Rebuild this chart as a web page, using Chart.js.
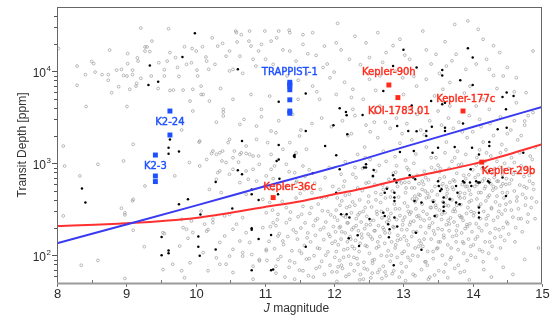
<!DOCTYPE html>
<html>
<head>
<meta charset="utf-8">
<script src="https://cdn.jsdelivr.net/npm/chart.js@4.4.1/dist/chart.umd.min.js"></script>
<style>
  html, body { margin: 0; padding: 0; background: #fff; }
</style>
</head>
<body>
<canvas id="depthChart" width="552" height="320"></canvas>
<script>
// Axis ranges and ticks
const X_MIN = 8, X_MAX = 15;
const Y_MIN = 50, Y_MAX = 50000;
const xTicks = [8, 9, 10, 11, 12, 13, 14, 15];
const yMajorTicks = [100, 1000, 10000];
const yMinorTicks = [60, 70, 80, 90, 200, 300, 400, 500, 600, 700, 800, 900,
    2000, 3000, 4000, 5000, 6000, 7000, 8000, 9000, 20000, 30000, 40000];

// Noise curves (J magnitude vs depth in ppm)
const blueLineJ = [8, 9, 10, 11, 12, 13, 14, 15];
const blueLineDepth = [135, 216, 347, 562, 900, 1500, 2480, 4100];
const redLineJ = [8, 9, 10, 11, 11.5, 12, 12.5, 13, 13.5, 14, 14.5, 15];
const redLineDepth = [208, 223, 255, 335, 385, 460, 550, 680, 810, 980, 1240, 1610];

// Highlighted systems
const blueTargets = [
    { name: 'K2-24', j: 9.63, depth: [3700, 2030] },
    { name: 'K2-3', j: 9.42, depth: [1230, 728, 633] },
    { name: 'TRAPPIST-1', j: 11.36, depth: [7600, 7200, 6900, 6300, 4900, 3700, 3500] }
];
const redTargets = [
    { name: 'Kepler-90h', j: 12.79, depth: [7100] },
    { name: 'KOI-1783.01', j: 12.92, depth: [5180] },
    { name: 'Kepler-177c', j: 13.86, depth: [3700] },
    { name: 'Kepler-29b', j: 14.13, depth: [1030] },
    { name: 'Kepler-36c', j: 11.12, depth: [424] }
];

// Confirmed planets (black)
const blackPts = [
[9.99,25900],[9.81,14300],[9.34,11600],[9.46,7700],[9.32,7100],[10.61,10500],
[9.63,1820],[9.61,1480],[9.61,1270],[9.76,1340],[10.67,1750],[11.2,4680],[11.2,1580],
[8.36,531],[8.41,374],[9.51,158],[9.51,100],[9.61,113],[9.61,105],[9.76,358],[9.89,406],
[10.04,160],[10.04,124],[10.06,99],[10.07,277],[10.29,627],[10.29,116],[10.53,322],[10.61,840],
[10.67,760],[10.81,520],[10.81,460],[10.91,400],[10.81,197],[10.81,190],[10.91,150],[10.81,69],
[11.09,69],[11.12,70],[11.09,166],[11.2,1100],
[13.0,17100],[13.93,17800],[14.0,14100],[12.85,11400],[13.19,11000],[13.56,10300],[13.56,9000],
[13.82,8000],[14.0,7100],[12.71,6100],[14.49,5870],[14.59,5380],[14.43,5250],[11.59,5720],[13.4,4760],
[12.08,3960],[12.17,3610],[12.18,3330],[12.41,3350],[14.48,3860],[11.99,2600],[12.91,2540],[12.19,2070],
[13.07,2240],[13.19,2230],[13.33,2240],[13.33,1980],[13.41,2490],[13.6,2440],[13.6,2240],[13.86,2700],
[14.36,2340],[14.49,2440],[14.24,1700],[14.24,1540],[11.87,1540],[11.43,1230],[12.03,1220],[12.95,1330],
[13.15,1360],[13.42,1300],[13.5,1480],[13.74,1500],[13.99,1480],[14.09,1250],[14.73,1300],
[11.42,1200],[11.17,1060],[11.69,780],[12.08,860],[12.43,900],[12.46,975],[12.46,900],[12.57,845],
[12.56,730],[12.85,740],[12.9,617],[12.87,670],[12.76,530],[12.73,480],[12.87,480],[12.87,425],
[12.87,390],[13.09,740],[13.14,700],[13.17,670],[13.16,390],[13.26,375],[13.43,380],[13.5,640],
[13.51,567],[13.55,522],[13.53,500],[13.58,424],[13.58,376],[13.58,338],[13.58,303],[13.67,406],
[13.76,567],[13.76,376],[13.86,640],[13.88,617],[13.78,480],[13.81,358],[13.96,617],[13.98,567],
[14.09,330],[14.09,290],[14.09,257],[14.05,640],[14.08,617],[14.1,617],[14.22,640],[14.24,617],
[14.24,825],[14.43,700],[14.48,440],[13.97,860],[14.15,900],[12.1,279],[12.18,279],[12.22,257],
[12.21,153],[12.34,165],[12.36,126],[12.51,248],[12.71,290],[12.73,268],[12.78,218],[12.8,192],
[12.79,157],[12.87,257],[12.91,205],[12.86,78],[13.26,115],[13.18,176],[13.45,268],[11.59,124],
[12.03,480],[11.59,2240],[11.43,1170],[11.21,680],[11.19,460],[13.12,4260],[13.56,4380],[13.6,4550]
];

// Candidates / all targets (grey)
const grayPts = [
// upper band, left
[8.02,17700],[8.29,7040],[8.41,9200],[8.5,12800],[8.53,12100],[8.55,9800],[8.65,9200],[8.74,9200],
[8.74,8000],[8.76,17000],[8.79,5860],[8.86,10300],[8.93,10500],[8.89,6800],[8.96,9000],[9.01,8900],
[9.02,15600],[9.02,12100],[9.05,6370],[9.09,10300],[9.09,9200],[9.14,6900],[9.15,7400],[9.16,14000],
[9.17,12900],[9.21,8400],[9.21,29500],[9.27,18400],[9.3,18400],[9.27,16600],[9.34,16400],[9.37,21300],
[9.36,8900],[9.46,6500],[9.47,12400],[9.55,10400],[9.55,8900],[9.61,29000],[9.59,12900],[9.63,16000],
[9.63,6200],[9.68,6250],[9.71,14100],[9.74,11000],[9.76,8800],[9.82,6250],[9.84,18500],[9.87,11900],
[9.94,12400],[9.95,17700],[9.96,6370],[10.01,16600],[10.02,10300],[10.03,8900],[10.1,18500],[10.08,6900],
[10.11,5600],[10.15,14300],[10.16,12900],[10.19,10500],[10.24,23100],[10.28,11900],[10.32,18800],
[10.39,20100],[10.44,14600],[10.36,6500],[10.49,16600],[10.49,10100],[10.54,10500],[10.58,27400],
[10.59,26300],[10.6,20800],[10.64,14600],[10.66,25000],[10.68,9500],[10.77,21300],[10.78,27400],
[10.8,18800],[10.83,13500],[10.87,11400],[10.91,16600],[10.95,19600],[11.0,27400],[11.01,13500],
[11.09,21300],[11.12,11900],[11.2,27400],[11.17,23100],[11.26,17100],[11.35,28000],[11.36,16600],
[11.32,8900],[11.45,12900],[8.42,4140],[9.01,4140],[8.29,11400],
// upper band, right
[11.36,26300],[11.55,19600],[11.69,26300],[11.74,14900],[11.86,18800],[12.05,33200],[12.03,20400],
[12.1,17100],[12.22,13500],[11.84,11000],[11.94,8500],[11.6,9300],[11.69,6900],[11.48,4960],[11.79,4960],
[12.03,5600],[12.27,6370],[12.46,20400],[12.51,14100],[12.63,26300],[12.75,16000],[12.95,22300],
[13.09,13500],[13.28,27400],[13.33,17100],[13.47,15300],[13.62,11400],[13.74,32300],[13.76,15300],
[13.93,35300],[14.08,28600],[14.15,22300],[14.2,13500],[14.39,16000],[14.44,8900],[14.24,10500],
[14.63,8500],[14.87,16600],[14.77,5860],[13.96,6900],[14.15,4960],[13.67,7540],[13.57,6370],[13.33,8200],
[13.19,6900],[12.99,8500],[12.66,8900],[12.51,8200],[12.42,4960],[12.27,3860],[12.66,4190],[13.09,3860],
[13.24,3560],[13.67,4190],[14.05,4190],[14.24,3860],[14.63,4550],[14.87,3560],[14.75,2880],
[11.62,15500],[11.9,12000],[12.0,9800],[12.15,7600],[12.38,11800],[12.55,9500],[12.7,12500],[12.88,10000],
[13.02,15000],[13.15,8800],[13.4,12000],[13.52,9500],[13.7,13000],[13.9,10500],[14.05,12000],[14.3,9000],
[14.5,11000],[11.48,8000],[11.75,6000],[12.25,5200],[12.6,6200],[13.0,5600],[13.45,5400],[13.88,5800],
[14.35,6500],[14.6,6000],[11.55,25000],[12.3,24000],[12.85,19000],[13.6,21000],[14.3,19000],
// middle
[10.06,1750],[10.05,1700],[10.23,1280],[10.35,1300],[10.49,1820],[10.56,1360],[10.73,1280],[10.91,1200],
[11.04,1680],[11.09,1250],[11.16,2150],[9.1,1610],[8.09,1540],[10.4,3270],[10.4,3600],
[9.92,4750],[10.08,5600],[9.96,3700],[10.2,4750],[10.4,3860],[10.54,4960],[10.8,5600],[11.07,5380],
[10.95,3860],[11.09,2240],[10.88,2540],[10.64,2650],[10.47,1680],[10.25,1360],[10.16,1100],[10.39,1360],
[10.38,1060],[10.54,1150],[10.66,1300],[10.73,1540],[10.78,1250],[10.88,1820],[10.92,975],[11.09,860],
[11.14,935],[11.31,975],[11.45,1300],[11.43,790],[11.55,935],[11.26,1420],[11.36,1680],[11.5,1980],
[11.6,1420],[10.35,825],[10.49,760],[10.73,825],[10.88,640],[10.3,670],[10.76,670],[11.0,567],
[11.31,567],[11.45,617],[11.57,520],
// lower left
[8.11,935],[8.59,975],[8.96,1060],[8.33,730],[8.93,325],[8.98,290],[8.98,275],[9.1,406],[9.09,390],
[9.27,567],[8.09,268],[9.1,187],[9.26,124],[9.53,176],[9.55,172],[9.67,80],[9.53,70],[8.98,56],
[8.35,78],[8.59,88],[9.87,192],[9.8,246],[9.94,236],[9.89,153],[9.77,126],[9.7,730],[9.91,1020],
[10.06,935],[10.2,520],[10.08,303],[10.16,183],[10.25,226],[10.35,138],[10.11,107],[10.35,80],
[10.18,68],[10.54,65],[9.84,57],[10.49,98],[10.54,192],[10.49,279],[10.68,257],[10.64,617],
[10.54,860],[10.73,460],[10.78,138],[10.68,107],[10.92,90],[10.83,76],[11.02,116],[11.12,226],
[11.02,290],[11.12,520],[11.02,730],[10.83,1200],[10.64,1250],[10.44,1020],[10.3,1250],[10.62,1030],
[10.83,860],[10.97,406],[11.07,375],[11.19,162],[11.19,90],[10.83,55],[10.54,116],[10.37,480],[10.32,790],
[9.82,200],[9.96,177],[10.13,218],[10.18,190],[10.42,162],[10.64,143],[10.73,176],[10.97,200],
[11.16,210],[11.36,246],[11.45,177],[11.26,143],[11.5,112],[11.36,87],[11.16,76],[10.92,87],
[10.68,98],[10.44,80],[10.3,94],[9.92,83],[9.8,68],[11.55,68],[11.43,55],[10.81,102],[11.02,112],
[10.59,218],[11.19,279],[11.53,279],[11.31,330],[10.42,268],[10.25,246],
// J 11-12
[11.03,88],[11.06,142],[11.08,205],[11.11,310],[11.14,118],[11.16,64],[11.18,244],[11.21,172],
[11.23,97],[11.25,385],[11.27,131],[11.29,58],[11.31,226],[11.33,160],[11.35,74],[11.37,295],
[11.39,112],[11.41,189],[11.43,83],[11.45,420],[11.47,150],[11.48,262],[11.5,69],[11.52,198],
[11.53,105],[11.55,340],[11.57,128],[11.58,225],[11.6,91],[11.62,175],[11.63,60],[11.65,285],
[11.66,140],[11.68,480],[11.7,210],[11.71,99],[11.73,165],[11.74,72],[11.76,250],[11.77,360],
[11.79,118],[11.8,190],[11.82,86],[11.83,305],[11.85,148],[11.86,62],[11.88,230],[11.89,430],
[11.91,109],[11.92,170],[11.94,78],[11.95,275],[11.97,135],[11.98,560],[11.99,205],[11.12,680],
[11.28,540],[11.46,640],[11.58,720],[11.72,610],[11.87,700],[11.64,850],[11.93,900],[11.35,810],
[11.51,470],[11.8,520],
[11.61,155],[11.64,92],[11.67,330],[11.7,58],[11.73,240],[11.76,120],[11.79,75],[11.82,420],
[11.85,200],[11.88,100],[11.91,300],[11.94,160],[11.97,66],
// J 12-13
[12.01,95],[12.02,180],[12.03,310],[12.04,66],[12.05,240],[12.06,130],[12.07,520],[12.08,88],
[12.09,205],[12.1,150],[12.11,390],[12.12,72],[12.13,270],[12.14,115],[12.15,640],[12.16,175],
[12.17,59],[12.18,330],[12.19,140],[12.2,225],[12.21,98],[12.22,460],[12.23,160],[12.24,80],
[12.25,290],[12.26,125],[12.27,760],[12.28,200],[12.29,68],[12.3,350],[12.31,145],[12.32,250],
[12.33,92],[12.34,540],[12.35,185],[12.36,110],[12.37,400],[12.38,62],[12.39,230],[12.4,155],
[12.41,880],[12.42,300],[12.43,84],[12.44,195],[12.45,128],[12.46,610],[12.47,265],[12.48,70],
[12.49,170],[12.5,440],[12.51,105],[12.52,215],[12.53,57],[12.54,335],[12.55,150],[12.56,720],
[12.57,240],[12.58,90],[12.59,185],[12.6,480],[12.61,120],[12.62,280],[12.63,65],[12.64,210],
[12.65,950],[12.66,160],[12.67,375],[12.68,100],[12.69,255],[12.7,580],[12.71,76],[12.72,190],
[12.73,135],[12.74,420],[12.75,60],[12.76,230],[12.77,315],[12.78,112],[12.79,670],[12.8,175],
[12.81,86],[12.82,285],[12.83,140],[12.84,500],[12.85,205],[12.86,68],[12.87,360],[12.88,120],
[12.89,800],[12.9,245],[12.91,95],[12.92,165],[12.93,430],[12.94,58],[12.95,270],[12.96,150],
[12.97,610],[12.98,105],[12.99,215],
[12.015,142],[12.045,420],[12.075,200],[12.105,78],[12.135,560],[12.165,260],[12.195,118],[12.225,340],
[12.255,190],[12.285,95],[12.315,700],[12.345,275],[12.375,135],[12.405,505],[12.435,72],[12.465,215],
[12.495,380],[12.525,160],[12.555,82],[12.585,590],[12.615,300],[12.645,125],[12.675,460],[12.705,200],
[12.735,66],[12.765,540],[12.795,240],[12.825,100],[12.855,780],[12.885,320],[12.915,145],[12.945,650],
[12.975,190],[12.52,1100],[12.34,1250],[12.71,1350],[12.88,1180],[12.16,1040],[12.44,1500],[12.63,1900],
[12.95,1650],[12.25,2100],[12.81,2400],[12.58,2800],
[12.006,260],[12.032,110],[12.058,75],[12.084,350],[12.11,180],[12.136,95],[12.162,450],[12.188,225],
[12.214,62],[12.24,150],[12.266,380],[12.292,118],[12.318,210],[12.344,80],[12.37,290],[12.396,170],
[12.422,55],[12.448,330],[12.474,125],[12.5,620],[12.526,240],[12.552,88],[12.578,185],[12.604,400],
[12.63,140],[12.656,70],[12.682,300],[12.708,520],[12.734,175],[12.76,98],[12.786,260],[12.812,430],
[12.838,63],[12.864,200],[12.89,130],[12.916,560],[12.942,320],[12.968,82],[12.994,240],
// J 13-14
[13.01,110],[13.02,260],[13.03,480],[13.04,75],[13.05,190],[13.06,340],[13.07,130],[13.08,620],
[13.09,215],[13.1,88],[13.11,295],[13.12,160],[13.13,410],[13.14,62],[13.15,235],[13.16,540],
[13.17,120],[13.18,320],[13.19,180],[13.2,740],[13.21,98],[13.22,270],[13.23,145],[13.24,450],
[13.25,205],[13.26,70],[13.27,360],[13.28,125],[13.29,590],[13.3,240],[13.31,85],[13.32,175],
[13.33,420],[13.34,280],[13.35,110],[13.36,660],[13.37,200],[13.38,58],[13.39,330],[13.4,150],
[13.41,500],[13.42,225],[13.43,92],[13.44,390],[13.45,170],[13.46,840],[13.47,265],[13.48,118],
[13.49,455],[13.5,195],[13.51,68],[13.52,310],[13.53,140],[13.54,560],[13.55,245],[13.56,100],
[13.57,380],[13.58,165],[13.59,710],[13.6,290],[13.61,80],[13.62,215],[13.63,470],[13.64,130],
[13.65,345],[13.66,185],[13.67,620],[13.68,255],[13.69,95],[13.7,400],[13.71,160],[13.72,520],
[13.73,230],[13.74,72],[13.75,300],[13.76,140],[13.77,780],[13.78,210],[13.79,115],[13.8,440],
[13.81,270],[13.82,65],[13.83,355],[13.84,175],[13.85,590],[13.86,240],[13.87,105],[13.88,420],
[13.89,195],[13.9,680],[13.91,285],[13.92,88],[13.93,330],[13.94,150],[13.95,510],[13.96,220],
[13.97,125],[13.98,395],[13.99,180],
[13.015,370],[13.045,145],[13.075,850],[13.105,230],[13.135,100],[13.165,440],[13.195,265],[13.225,600],
[13.255,135],[13.285,300],[13.315,500],[13.345,78],[13.375,250],[13.405,900],[13.435,185],[13.465,350],
[13.495,120],[13.525,680],[13.555,280],[13.585,155],[13.615,430],[13.645,240],[13.675,90],[13.705,550],
[13.735,320],[13.765,185],[13.795,960],[13.825,260],[13.855,140],[13.885,470],[13.915,215],[13.945,750],
[13.975,300],[13.03,1080],[13.18,1260],[13.33,1500],[13.47,1150],[13.62,1700],[13.78,1350],[13.92,1900],
[13.25,2300],[13.55,2600],[13.85,2200],[13.12,1800],[13.7,1050],
[13.02,620],[13.12,540],[13.22,460],[13.32,700],[13.42,390],[13.52,810],[13.62,560],[13.72,660],
[13.82,480],[13.92,560],[13.07,300],[13.17,380],[13.27,520],[13.37,430],[13.47,330],[13.57,600],
[13.67,410],[13.77,350],[13.87,740],[13.97,460],
[13.012,160],[13.038,540],[13.064,95],[13.09,280],[13.116,720],[13.142,180],[13.168,60],[13.194,410],
[13.22,125],[13.246,250],[13.272,640],[13.298,150],[13.324,85],[13.35,470],[13.376,210],[13.402,330],
[13.428,110],[13.454,560],[13.48,270],[13.506,140],[13.532,880],[13.558,190],[13.584,66],[13.61,350],
[13.636,520],[13.662,220],[13.688,120],[13.714,300],[13.74,640],[13.766,165],[13.792,78],[13.818,420],
[13.844,260],[13.87,135],[13.896,560],[13.922,205],[13.948,380],[13.974,100],
// J 14-15
[14.01,130],[14.02,290],[14.03,560],[14.04,95],[14.05,220],[14.06,410],[14.07,160],[14.08,750],
[14.09,340],[14.1,115],[14.11,250],[14.12,480],[14.13,185],[14.14,640],[14.15,85],[14.16,300],
[14.17,530],[14.18,140],[14.19,390],[14.2,215],[14.21,820],[14.22,270],[14.23,105],[14.24,450],
[14.25,175],[14.26,600],[14.27,330],[14.28,125],[14.29,510],[14.3,240],[14.31,700],[14.32,155],
[14.33,380],[14.34,92],[14.35,440],[14.36,260],[14.37,640],[14.38,190],[14.39,350],[14.4,120],
[14.41,560],[14.42,280],[14.43,760],[14.44,200],[14.45,420],[14.46,145],[14.47,310],[14.48,590],
[14.49,230],[14.5,480],[14.52,170],[14.54,380],[14.56,660],[14.58,260],[14.6,500],[14.62,200],
[14.64,430],[14.66,320],[14.68,580],[14.7,250],[14.72,460],[14.74,720],[14.76,350],[14.78,540],
[14.8,280],[14.82,640],[14.85,420],[14.88,520],[14.92,380],[14.52,880],[14.6,1020],[14.7,940],
[14.83,1200],[14.06,1150],[14.2,1300],[14.35,1050],[14.48,1400],[14.15,1700],[14.3,2000],[14.42,1600],
[14.65,1800],[14.55,2300],[14.75,2600],[14.12,2500],[14.9,1500],
[14.035,700],[14.085,480],[14.135,880],[14.185,560],[14.235,660],[14.285,780],[14.335,540],[14.385,900],
[14.435,600],[14.485,680],
[14.012,270],[14.038,150],[14.064,590],[14.09,200],[14.116,360],[14.142,110],[14.168,680],[14.194,250],
[14.22,430],[14.246,140],[14.272,320],[14.298,560],[14.324,195],[14.35,640],[14.376,300],[14.402,160],
[14.428,480],[14.454,850],[14.48,360],[14.506,220],[14.532,600],[14.558,310],[14.584,760],[14.61,140],
[14.636,390],[14.662,250],[14.688,820],[14.714,180],[14.74,560],[14.766,420],[14.792,230],[14.818,740],
[14.844,330],[14.87,600],[14.9,250],
// upper edge of the main cloud
[13.05,900],[13.15,1000],[13.3,820],[13.4,1150],[13.5,950],[13.6,1300],[13.66,880],[13.74,1150],
[13.84,980],[13.9,1250],[14.0,850],[14.05,950],[14.1,1400],[14.18,1050],[14.26,1200],[14.32,880],
[14.4,1300],[14.46,1000],[14.56,1150],[14.62,800],[14.68,1300],[14.78,900],[14.86,1100],[12.9,940],
[12.75,1050],[12.6,820],[12.45,1150],[12.3,900],[12.1,760],
// lower edge of the main cloud
[12.04,52],[12.37,54],[12.69,56],[13.03,53],[13.36,55],[13.64,57],[13.95,54],[14.27,58],[14.58,62],
[12.55,64],[12.98,66],[13.45,61],[13.88,67],[14.16,70],[14.44,74],[14.75,90],[14.95,120],
// between bands
[11.52,2300],[11.68,2700],[11.82,3100],[11.96,2500],[12.12,2900],[12.3,3300],[12.46,2600],[12.6,3600],
[12.74,2800],[12.9,3100],[13.05,2700],[13.2,3400],[13.38,2900],[13.5,3700],[13.65,3100],[13.8,2800],
[13.95,3300],[14.1,3000],[14.25,2700],[14.4,3200],[14.6,2900],[14.8,3300],[12.2,2000],[12.52,2200],
[12.98,2100],[13.3,2050],[13.72,2400],[14.0,2200],[14.5,2100],[14.7,2000],[10.95,3200],[11.2,2900],
[11.4,3400],[10.7,3000],[10.3,2800],[9.8,2300]
];

// Label placement (pixel offsets from the first square of each system)
const LABEL_STYLE = {
    'K2-24':       { dx: 0,   dy: 10.5,  align: 'center' },
    'K2-3':        { dx: 0,   dy: 10.5,  align: 'center' },
    'TRAPPIST-1':  { dx: 0,   dy: -11,   align: 'center' },
    'Kepler-90h':  { dx: 0,   dy: -13.7, align: 'center' },
    'KOI-1783.01': { dx: 1,   dy: 12.7,  align: 'center' },
    'Kepler-177c': { dx: 2.7, dy: -12.7, align: 'center' },
    'Kepler-29b':  { dx: 0,   dy: 8.5,   align: 'left' },
    'Kepler-36c':  { dx: -10, dy: -10.8, align: 'left' }
};

const BLUE = '#1e50ff';
const RED = '#ff2a1a';
const TEXT = '#2b2b2b';
const TICK_FONT = '"Liberation Sans", Arial, sans-serif';

const toXY = p => ({ x: p[0], y: p[1] });
const zipXY = (xs, ys) => xs.map((x, i) => ({ x: x, y: ys[i] }));
const targetPoints = list => list.flatMap(t => t.depth.map(d => ({ x: t.j, y: d })));

/**
 * Frame, ticks and axis titles drawn with the chart's own scales
 */
const framePlugin = {
    id: 'frame',
    afterDatasetsDraw(chart) {
        const { ctx, chartArea: a, scales: { x, y } } = chart;
        ctx.save();

        // box
        ctx.strokeStyle = '#666';
        ctx.lineWidth = 1;
        ctx.strokeRect(a.left + 0.5, a.top + 0.5, a.right - a.left - 1, a.bottom - a.top);
        ctx.strokeStyle = '#9a9a9a';
        ctx.lineWidth = 2;
        ctx.beginPath();
        ctx.moveTo(a.left, a.bottom + 0.5);
        ctx.lineTo(a.right, a.bottom + 0.5);
        ctx.stroke();

        // x ticks
        ctx.lineWidth = 1;
        ctx.strokeStyle = '#777';
        ctx.fillStyle = TEXT;
        ctx.font = '13px ' + TICK_FONT;
        ctx.textAlign = 'center';
        ctx.textBaseline = 'alphabetic';
        xTicks.forEach(v => {
            const px = Math.round(x.getPixelForValue(v)) + 0.5;
            ctx.beginPath();
            ctx.moveTo(px, a.bottom + 1);
            ctx.lineTo(px, a.bottom + 4);
            ctx.stroke();
            ctx.fillText(String(v), px, a.bottom + 15);
            if (v < X_MAX) {
                const hx = Math.round(x.getPixelForValue(v + 0.5)) + 0.5;
                ctx.beginPath();
                ctx.moveTo(hx, a.bottom);
                ctx.lineTo(hx, a.bottom - 3);
                ctx.stroke();
            }
        });

        // y ticks
        ctx.strokeStyle = '#555';
        yMinorTicks.forEach(v => {
            const py = Math.round(y.getPixelForValue(v)) + 0.5;
            ctx.beginPath();
            ctx.moveTo(a.left, py);
            ctx.lineTo(a.left - 3, py);
            ctx.stroke();
        });
        yMajorTicks.forEach(v => {
            const py = Math.round(y.getPixelForValue(v)) + 0.5;
            ctx.beginPath();
            ctx.moveTo(a.left, py);
            ctx.lineTo(a.left - 5, py);
            ctx.stroke();
            ctx.font = '12px ' + TICK_FONT;
            ctx.textAlign = 'right';
            ctx.fillText('10', a.left - 11, py + 5);
            ctx.font = '8px ' + TICK_FONT;
            ctx.textAlign = 'left';
            ctx.fillText(String(Math.round(Math.log10(v))), a.left - 10.5, py - 1);
        });

        // axis titles
        ctx.font = '12px ' + TICK_FONT;
        ctx.fillStyle = '#333';
        ctx.save();
        ctx.translate(22.5, (a.top + a.bottom) / 2);
        ctx.rotate(-Math.PI / 2);
        ctx.textAlign = 'center';
        ctx.textBaseline = 'middle';
        ctx.fillText('Transit Depth [ppm]', 0, 0);
        ctx.restore();

        const italic = 'italic 12px ' + TICK_FONT;
        const normal = '12px ' + TICK_FONT;
        ctx.font = italic;
        const wJ = ctx.measureText('J').width;
        ctx.font = normal;
        const wRest = ctx.measureText(' magnitude').width;
        const startX = (a.left + a.right) / 2 - 3 - (wJ + wRest) / 2;
        ctx.textAlign = 'left';
        ctx.textBaseline = 'alphabetic';
        ctx.font = italic;
        ctx.fillText('J', startX, 312);
        ctx.font = normal;
        ctx.fillText(' magnitude', startX + wJ, 312);

        ctx.restore();
    }
};

/**
 * Names next to the highlighted systems
 */
const namesPlugin = {
    id: 'names',
    afterDatasetsDraw(chart) {
        const { ctx, scales: { x, y } } = chart;
        ctx.save();
        ctx.font = '10px "DejaVu Sans", sans-serif';
        ctx.textBaseline = 'alphabetic';
        ctx.lineWidth = 0.4;
        const draw = (list, color) => {
            list.forEach(t => {
                const s = LABEL_STYLE[t.name];
                const px = x.getPixelForValue(t.j) + s.dx;
                const py = y.getPixelForValue(t.depth[0]) + s.dy;
                ctx.fillStyle = color;
                ctx.strokeStyle = color;
                ctx.textAlign = s.align;
                ctx.fillText(t.name, px, py + 3.6);
                ctx.strokeText(t.name, px, py + 3.6);
            });
        };
        draw(blueTargets, BLUE);
        draw(redTargets, RED);
        ctx.restore();
    }
};

function createDepthChart() {
    const ctx = document.getElementById('depthChart');

    new Chart(ctx, {
        type: 'scatter',
        data: {
            datasets: [
                {
                    label: 'All targets',
                    data: grayPts.map(toXY),
                    pointStyle: 'circle',
                    pointRadius: 1.4,
                    backgroundColor: 'rgba(255,255,255,0)',
                    borderColor: 'rgba(135,135,135,0.75)',
                    borderWidth: 0.75,
                    order: 5
                },
                {
                    label: 'Planets',
                    data: blackPts.map(toXY),
                    pointRadius: 1.25,
                    backgroundColor: '#000',
                    borderWidth: 0,
                    order: 4
                },
                {
                    type: 'line',
                    label: 'Noise (blue)',
                    data: zipXY(blueLineJ, blueLineDepth),
                    borderColor: '#3a3af2',
                    borderWidth: 2,
                    pointRadius: 0,
                    cubicInterpolationMode: 'monotone',
                    fill: false,
                    order: 3
                },
                {
                    type: 'line',
                    label: 'Noise (red)',
                    data: zipXY(redLineJ, redLineDepth),
                    borderColor: '#ff3030',
                    borderWidth: 2,
                    pointRadius: 0,
                    cubicInterpolationMode: 'monotone',
                    fill: false,
                    order: 3
                },
                {
                    label: 'Blue targets',
                    data: targetPoints(blueTargets),
                    pointStyle: 'rect',
                    pointRadius: 3.5,
                    backgroundColor: BLUE,
                    borderWidth: 0,
                    order: 1
                },
                {
                    label: 'Red targets',
                    data: targetPoints(redTargets),
                    pointStyle: 'rect',
                    pointRadius: 3.5,
                    backgroundColor: RED,
                    borderWidth: 0,
                    order: 1
                }
            ]
        },
        options: {
            responsive: false,
            animation: false,
            devicePixelRatio: 1,
            layout: { padding: { left: 57, right: 10, top: 7, bottom: 37 } },
            plugins: {
                legend: { display: false },
                tooltip: { enabled: false }
            },
            scales: {
                x: { type: 'linear', min: X_MIN, max: X_MAX, display: false },
                y: { type: 'logarithmic', min: Y_MIN, max: Y_MAX, display: false }
            }
        },
        plugins: [framePlugin, namesPlugin]
    });
}

document.addEventListener('DOMContentLoaded', createDepthChart);
</script>
</body>
</html>
